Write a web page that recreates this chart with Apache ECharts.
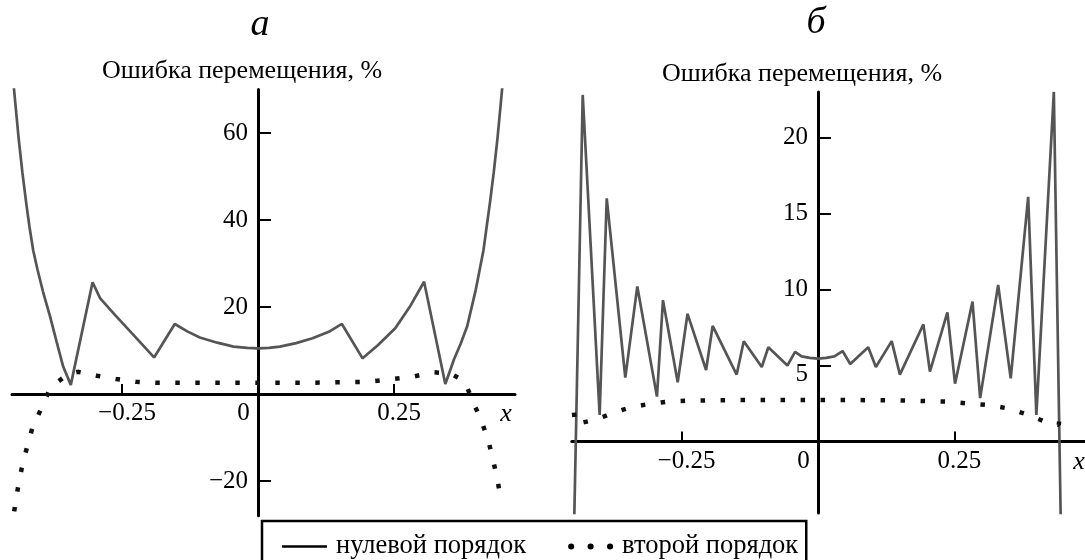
<!DOCTYPE html>
<html>
<head>
<meta charset="utf-8">
<script src="https://cdn.jsdelivr.net/npm/echarts@6.0.0/dist/echarts.min.js"></script>
<style>
  html, body { margin: 0; padding: 0; background: #fff; }
  #chart { width: 1085px; height: 560px; }
</style>
</head>
<body>
<div id="chart"></div>
<script>
// панель а
const aZeroX = [-0.452, -0.446, -0.44, -0.433, -0.426, -0.42, -0.413, -0.405, -0.395, -0.382, -0.37, -0.358, -0.344,
  -0.304, -0.29, -0.26, -0.229, -0.191, -0.153, -0.13, -0.107, -0.075, -0.045, -0.02, 0, 0.02, 0.04, 0.07, 0.1, 0.13,
  0.154, 0.192, 0.22, 0.252, 0.28, 0.305, 0.344, 0.36, 0.372, 0.384, 0.40, 0.414, 0.42, 0.426, 0.433, 0.44, 0.446, 0.452];
const aZeroY = [75, 67, 59, 51, 44, 38.5, 33, 28.5, 23.5, 17.8, 12, 6.3, 2.1,
  25.7, 22.0, 17.8, 13.6, 8.4, 16.1, 14.4, 13.0, 11.8, 10.9, 10.6, 10.5, 10.6, 10.9, 11.7, 12.8, 14.3,
  16.1, 8.2, 11.2, 15.1, 20.3, 25.8, 2.3, 8, 11.5, 15.5, 24, 33, 38.5, 44, 51, 59, 67, 75];
const aSecondX = [-0.448, -0.441, -0.434, -0.425, -0.415, -0.40, -0.384, -0.37, -0.35, -0.331, -0.31, -0.296, -0.261,
  -0.224, -0.188, -0.1, 0, 0.1, 0.2, 0.251, 0.285, 0.321, 0.352, 0.37, 0.382, 0.396, 0.411, 0.423, 0.432, 0.440, 0.447];
const aSecondY = [-27, -21.5, -17, -12.5, -8, -3.8, 0.7, 2.6, 4.5, 5.1, 4.6, 4.2, 3.45,
  2.8, 2.6, 2.6, 2.6, 2.6, 2.8, 3.5, 4.0, 5.0, 4.75, 3.6, 2.1, -2.1, -6.4, -10.7, -15.3, -19.9, -25];

// панель б
const bZeroX = [-0.447, -0.431, -0.40, -0.387, -0.353, -0.331, -0.295, -0.284, -0.257, -0.239, -0.205, -0.193,
  -0.149, -0.136, -0.103, -0.091, -0.056, -0.042, -0.03, -0.015, 0, 0.015, 0.03, 0.045, 0.059, 0.092, 0.106,
  0.135, 0.150, 0.193, 0.205, 0.237, 0.251, 0.283, 0.297, 0.330, 0.353, 0.385, 0.400, 0.432, 0.445];
const bZeroY = [-6, 22.8, 1.75, 16.0, 4.2, 10.2, 2.95, 9.3, 3.9, 8.4, 4.7, 7.6,
  4.4, 6.6, 4.9, 6.2, 5.0, 5.9, 5.6, 5.5, 5.45, 5.5, 5.6, 5.95, 5.1, 6.2, 4.9,
  6.6, 4.4, 7.7, 4.6, 8.5, 3.8, 9.2, 2.85, 10.3, 4.15, 16.1, 1.75, 23.0, -6];
const bSecondX = [-0.447, -0.445, -0.43, -0.412, -0.395, -0.378, -0.343, -0.309, -0.274, -0.24, -0.15, -0.05, 0,
  0.05, 0.15, 0.239, 0.275, 0.312, 0.347, 0.381, 0.416, 0.441, 0.444];
const bSecondY = [1.9, 1.15, 1.25, 1.4, 1.6, 1.85, 2.25, 2.47, 2.62, 2.68, 2.73, 2.73, 2.73,
  2.73, 2.7, 2.62, 2.5, 2.4, 2.18, 1.8, 1.3, 1.1, 1.9];

// подписи осей
const aYTicks = [-20, 20, 40, 60];
const bYTicks = [5, 10, 15, 20];
const xTicks = [-0.25, 0.25];
const xLabels = [-0.25, 0, 0.25];
const yName = 'Ошибка перемещения, %';
const names = ['нулевой порядок', 'второй порядок'];

const serif = 'Liberation Serif';
const pairs = (xs, ys) => xs.map((x, i) => [x, ys[i]]);
const num = v => (v < 0 ? '\u2212' : '') + Math.abs(v);

// рамки панелей: [left, top, width, height, xmin, xmax, ymin, ymax]
const boxA = [12, 89.5, 503, 426.3, -0.452, 0.472, -28, 70];
const boxB = [571.8, 91.9, 513.7, 421, -0.451, 0.49, -4.7, 23];

// оси пересекаются в нуле: сдвигаем их внутрь сетки
const zeroX = b => b[2] * (0 - b[4]) / (b[5] - b[4]);          // от левого края
const zeroY = b => b[3] * (0 - b[6]) / (b[7] - b[6]);          // от нижнего края

const chart = echarts.init(document.getElementById('chart'));

function xAxisOf(idx, b) {
  const lbl = { fontFamily: serif, fontSize: 25, color: '#000' };
  return {
    type: 'value', gridIndex: idx, min: b[4], max: b[5], position: 'bottom', offset: -zeroY(b),
    axisLine: { onZero: false, lineStyle: { color: '#000', width: 3 } },
    axisTick: { inside: true, length: 10, customValues: xTicks, lineStyle: { color: '#000', width: 2 } },
    axisLabel: {
      customValues: xLabels, margin: 7, color: '#000', fontFamily: serif, fontSize: 25,
      formatter: v => v === 0 ? '{z|0}' : '{n|' + num(v) + '}',
      rich: {
        z: Object.assign({ padding: [0, 29, 0, 0] }, lbl),
        n: Object.assign({ padding: [0, 0, 0, 10] }, lbl)
      }
    },
    splitLine: { show: false }
  };
}

function yAxisOf(idx, b, ticks) {
  return {
    type: 'value', gridIndex: idx, min: b[6], max: b[7], position: 'left', offset: -zeroX(b),
    name: yName, nameLocation: 'end', nameGap: 5,
    nameTextStyle: { fontFamily: serif, fontSize: 26, color: '#000', padding: [0, 32, 0, 0] },
    axisLine: { onZero: false, lineStyle: { color: '#000', width: 3 } },
    axisTick: { inside: true, length: 13, customValues: ticks, lineStyle: { color: '#000', width: 2 } },
    axisLabel: {
      customValues: ticks, margin: 10, color: '#000', fontFamily: serif, fontSize: 25,
      formatter: v => (idx === 1 && v === 5) ? '{f|5}' : num(v),
      rich: { f: { padding: [18, 0, 0, 0], fontFamily: serif, fontSize: 25, color: '#000' } }
    },
    splitLine: { show: false }
  };
}

const gridOf = b => ({ left: b[0], top: b[1], width: b[2], height: b[3], outerBoundsMode: 'none' });

const zeroStyle = { color: '#555', width: 2.7 };
const secondStyle = { color: '#111', width: 4.5, type: [4.5, 15.5], cap: 'butt' };

chart.setOption({
  animation: false,
  grid: [gridOf(boxA), gridOf(boxB)],
  xAxis: [xAxisOf(0, boxA), xAxisOf(1, boxB)],
  yAxis: [yAxisOf(0, boxA, aYTicks), yAxisOf(1, boxB, bYTicks)],
  legend: {
    left: 262, top: 521, itemWidth: 45, itemHeight: 14, itemGap: 42,
    padding: [12, 8, 14, 20], borderColor: '#000', borderWidth: 2.5,
    selectedMode: false,
    textStyle: { fontFamily: serif, fontSize: 26.5, color: '#000', padding: [0, 0, 0, 4] },
    data: [
      { name: names[0], icon: 'path://M0,0H45V2.5H0Z', itemStyle: { color: '#000' } },
      { name: names[1], icon: 'path://M0,3a3,3 0 1,0 6,0a3,3 0 1,0 -6,0M19,3a3,3 0 1,0 6,0a3,3 0 1,0 -6,0M38,3a3,3 0 1,0 6,0a3,3 0 1,0 -6,0Z', itemStyle: { color: '#000' } }
    ]
  },
  graphic: [
    { type: 'text', x: 260, y: 25, style: { text: 'а', font: 'italic 38px "Liberation Serif"', fill: '#000', align: 'center', verticalAlign: 'middle', textAlign: 'center', textVerticalAlign: 'middle' } },
    { type: 'text', x: 816, y: 23, style: { text: 'б', font: 'italic 38px "Liberation Serif"', fill: '#000', align: 'center', verticalAlign: 'middle', textAlign: 'center', textVerticalAlign: 'middle' } },
    { type: 'text', x: 506, y: 414, style: { text: 'x', font: 'italic 26px "Liberation Serif"', fill: '#000', align: 'center', verticalAlign: 'middle', textAlign: 'center', textVerticalAlign: 'middle' } },
    { type: 'text', x: 1079, y: 462, style: { text: 'x', font: 'italic 26px "Liberation Serif"', fill: '#000', align: 'center', verticalAlign: 'middle', textAlign: 'center', textVerticalAlign: 'middle' } }
  ],
  series: [
    { name: names[0], type: 'line', xAxisIndex: 0, yAxisIndex: 0, data: pairs(aZeroX, aZeroY), symbol: 'none', lineStyle: zeroStyle, itemStyle: { color: '#555' } },
    { name: names[1], type: 'line', xAxisIndex: 0, yAxisIndex: 0, data: pairs(aSecondX, aSecondY), symbol: 'none', lineStyle: secondStyle, itemStyle: { color: '#111' } },
    { name: names[0], type: 'line', xAxisIndex: 1, yAxisIndex: 1, data: pairs(bZeroX, bZeroY), symbol: 'none', lineStyle: zeroStyle, itemStyle: { color: '#555' } },
    { name: names[1], type: 'line', xAxisIndex: 1, yAxisIndex: 1, data: pairs(bSecondX, bSecondY), symbol: 'none', lineStyle: secondStyle, itemStyle: { color: '#111' } }
  ]
});
</script>
</body>
</html>
